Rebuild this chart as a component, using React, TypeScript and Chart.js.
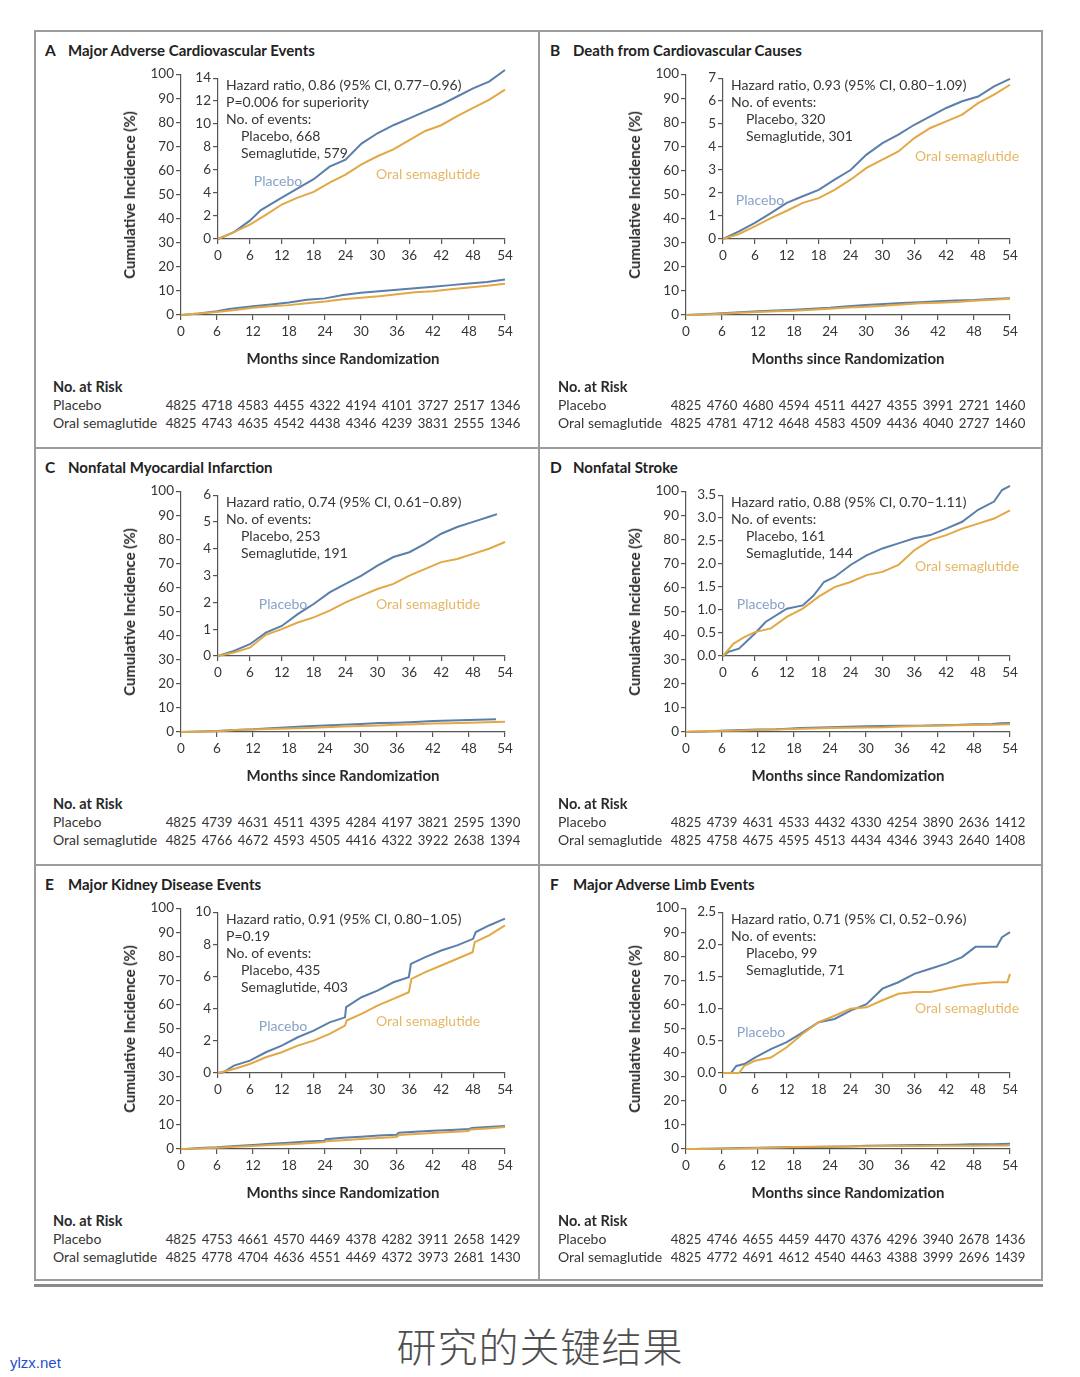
import React, { useEffect, useRef } from 'react';
import { Chart, registerables } from 'chart.js';
Chart.register(...registerables);

// ---------- data ----------
const xTickMonths = [0, 6, 12, 18, 24, 30, 36, 42, 48, 54];

// A: Major Adverse Cardiovascular Events
const aPlaceboMonths = [0, 3, 6, 8, 12, 15, 18, 21, 24, 27, 30, 33, 36, 39, 42, 45, 48, 51, 54];
const aPlaceboPct = [0, 0.6, 1.6, 2.5, 3.6, 4.4, 5.2, 6.3, 6.9, 8.3, 9.2, 9.9, 10.5, 11.1, 11.7, 12.4, 13.1, 13.7, 14.7];
const aSemaMonths = [0, 3, 6, 9, 12, 15, 18, 21, 24, 27, 30, 33, 36, 39, 42, 45, 48, 51, 54];
const aSemaPct = [0, 0.6, 1.25, 2.1, 3.0, 3.6, 4.1, 4.9, 5.6, 6.5, 7.2, 7.8, 8.6, 9.4, 9.9, 10.7, 11.4, 12.1, 13.0];
const aRiskPlacebo = [4825, 4718, 4583, 4455, 4322, 4194, 4101, 3727, 2517, 1346];
const aRiskSema = [4825, 4743, 4635, 4542, 4438, 4346, 4239, 3831, 2555, 1346];

// B: Death from Cardiovascular Causes
const bPlaceboMonths = [0, 3, 6, 9, 12, 15, 18, 21, 24, 27, 30, 33, 36, 39, 42, 45, 48, 51, 54];
const bPlaceboPct = [0, 0.33, 0.7, 1.13, 1.57, 1.86, 2.14, 2.58, 3.0, 3.67, 4.17, 4.54, 4.97, 5.33, 5.7, 5.99, 6.2, 6.64, 6.97];
const bSemaMonths = [0, 3, 6, 9, 12, 15, 18, 21, 24, 27, 30, 33, 36, 39, 42, 45, 48, 51, 54];
const bSemaPct = [0, 0.22, 0.55, 0.91, 1.23, 1.57, 1.78, 2.14, 2.58, 3.09, 3.45, 3.81, 4.39, 4.83, 5.12, 5.41, 5.91, 6.28, 6.71];
const bRiskPlacebo = [4825, 4760, 4680, 4594, 4511, 4427, 4355, 3991, 2721, 1460];
const bRiskSema = [4825, 4781, 4712, 4648, 4583, 4509, 4436, 4040, 2727, 1460];

// C: Nonfatal Myocardial Infarction
const cPlaceboMonths = [0, 3, 6, 9, 12, 15, 18, 21, 24, 27, 30, 33, 36, 39, 42, 45, 48, 51, 52.5];
const cPlaceboPct = [0, 0.19, 0.44, 0.87, 1.12, 1.56, 1.94, 2.37, 2.69, 3.0, 3.37, 3.69, 3.87, 4.19, 4.56, 4.81, 5.0, 5.19, 5.29];
const cSemaMonths = [0, 3, 6, 9, 12, 15, 18, 21, 24, 27, 30, 33, 36, 39, 42, 45, 48, 51, 54];
const cSemaPct = [0, 0.13, 0.31, 0.79, 1.0, 1.25, 1.44, 1.69, 2.0, 2.25, 2.5, 2.69, 3.0, 3.25, 3.5, 3.62, 3.81, 4.0, 4.25];
const cRiskPlacebo = [4825, 4739, 4631, 4511, 4395, 4284, 4197, 3821, 2595, 1390];
const cRiskSema = [4825, 4766, 4672, 4593, 4505, 4416, 4322, 3922, 2638, 1394];

// D: Nonfatal Stroke
const dPlaceboMonths = [0, 1, 3, 6, 8, 12, 15, 17, 19, 21, 24, 27, 30, 33, 36, 39, 42, 45, 48, 51, 52.5, 54];
const dPlaceboPct = [0, 0.09, 0.16, 0.49, 0.74, 1.03, 1.1, 1.31, 1.61, 1.72, 1.98, 2.19, 2.34, 2.45, 2.56, 2.63, 2.77, 2.92, 3.18, 3.36, 3.61, 3.7];
const dSemaMonths = [0, 2, 4, 6, 9, 12, 15, 18, 21, 24, 27, 30, 33, 36, 39, 42, 45, 48, 51, 54];
const dSemaPct = [0, 0.27, 0.41, 0.52, 0.6, 0.85, 1.03, 1.29, 1.5, 1.61, 1.76, 1.83, 1.98, 2.3, 2.52, 2.63, 2.77, 2.88, 2.99, 3.17];
const dRiskPlacebo = [4825, 4739, 4631, 4533, 4432, 4330, 4254, 3890, 2636, 1412];
const dRiskSema = [4825, 4758, 4675, 4595, 4513, 4434, 4346, 3943, 2640, 1408];

// E: Major Kidney Disease Events
const ePlaceboMonths = [0, 1, 3, 6, 9, 12, 15, 18, 21, 23.9, 24.1, 27, 30, 33, 35.9, 36.3, 39, 42, 45, 48, 48.5, 51, 54];
const ePlaceboPct = [0, 0.04, 0.46, 0.77, 1.29, 1.7, 2.22, 2.63, 3.15, 3.46, 4.09, 4.71, 5.12, 5.64, 5.95, 6.78, 7.2, 7.61, 7.93, 8.34, 8.76, 9.17, 9.59];
const eSemaMonths = [0, 3, 6, 9, 12, 15, 18, 21, 23.9, 24.2, 27, 30, 33, 35.9, 36.4, 39, 42, 45, 47.9, 48.3, 51, 54];
const eSemaPct = [0, 0.25, 0.56, 0.98, 1.29, 1.7, 2.01, 2.43, 2.95, 3.26, 3.67, 4.19, 4.61, 5.02, 5.85, 6.27, 6.68, 7.1, 7.51, 8.13, 8.55, 9.17];
const eRiskPlacebo = [4825, 4753, 4661, 4570, 4469, 4378, 4282, 3911, 2658, 1429];
const eRiskSema = [4825, 4778, 4704, 4636, 4551, 4469, 4372, 3973, 2681, 1430];

// F: Major Adverse Limb Events
const fPlaceboMonths = [0, 1.5, 2.5, 4, 6, 9, 12, 15, 18, 21, 24, 27, 30, 33, 36, 39, 42, 45, 47.5, 51.5, 52.5, 54];
const fPlaceboPct = [0, 0, 0.11, 0.14, 0.24, 0.37, 0.48, 0.63, 0.79, 0.84, 0.97, 1.07, 1.31, 1.41, 1.54, 1.62, 1.7, 1.8, 1.96, 1.96, 2.11, 2.19];
const fSemaMonths = [0, 3, 4, 6, 9, 12, 15, 18, 21, 24, 27, 30, 33, 36, 39, 42, 45, 48, 51, 53.5, 54];
const fSemaPct = [0, 0, 0.11, 0.19, 0.24, 0.4, 0.61, 0.79, 0.89, 1.0, 1.02, 1.13, 1.23, 1.26, 1.26, 1.31, 1.36, 1.39, 1.41, 1.41, 1.54];
const fRiskPlacebo = [4825, 4746, 4655, 4459, 4470, 4376, 4296, 3940, 2678, 1436];
const fRiskSema = [4825, 4772, 4691, 4612, 4540, 4463, 4388, 3999, 2696, 1439];

// ---------- styles ----------
const BLUE = '#5a7fab';
const ORANGE = '#e2a845';
const BLUE_TXT = '#86a2c6';
const ORANGE_TXT = '#e6b765';
const AXIS = '#555555';
const TEXT = '#363636';
const FONT = 'Lato, "Open Sans", sans-serif';

type PanelCfg = {
  letter: string;
  title: string;
  left: number;
  top: number;
  pm: number[]; pv: number[]; sm: number[]; sv: number[];
  insetMax: number; insetStep: number; decimals: number;
  info: string[]; indentFrom: number;
  placeboLbl: [number, number]; semaLbl: [number, number];
  riskP: number[]; riskS: number[];
};

const panels: PanelCfg[] = [
  { letter: 'A', title: 'Major Adverse Cardiovascular Events', left: 34, top: 31,
    pm: aPlaceboMonths, pv: aPlaceboPct, sm: aSemaMonths, sv: aSemaPct,
    insetMax: 14, insetStep: 2, decimals: 0,
    info: ['Hazard ratio, 0.86 (95% CI, 0.77–0.96)', 'P=0.006 for superiority', 'No. of events:', 'Placebo, 668', 'Semaglutide, 579'], indentFrom: 3,
    placeboLbl: [244, 149], semaLbl: [394, 142], riskP: aRiskPlacebo, riskS: aRiskSema },
  { letter: 'B', title: 'Death from Cardiovascular Causes', left: 539, top: 31,
    pm: bPlaceboMonths, pv: bPlaceboPct, sm: bSemaMonths, sv: bSemaPct,
    insetMax: 7, insetStep: 1, decimals: 0,
    info: ['Hazard ratio, 0.93 (95% CI, 0.80–1.09)', 'No. of events:', 'Placebo, 320', 'Semaglutide, 301'], indentFrom: 2,
    placeboLbl: [221, 168], semaLbl: [428, 124], riskP: bRiskPlacebo, riskS: bRiskSema },
  { letter: 'C', title: 'Nonfatal Myocardial Infarction', left: 34, top: 448,
    pm: cPlaceboMonths, pv: cPlaceboPct, sm: cSemaMonths, sv: cSemaPct,
    insetMax: 6, insetStep: 1, decimals: 0,
    info: ['Hazard ratio, 0.74 (95% CI, 0.61–0.89)', 'No. of events:', 'Placebo, 253', 'Semaglutide, 191'], indentFrom: 2,
    placeboLbl: [249, 155], semaLbl: [394, 155], riskP: cRiskPlacebo, riskS: cRiskSema },
  { letter: 'D', title: 'Nonfatal Stroke', left: 539, top: 448,
    pm: dPlaceboMonths, pv: dPlaceboPct, sm: dSemaMonths, sv: dSemaPct,
    insetMax: 3.5, insetStep: 0.5, decimals: 1,
    info: ['Hazard ratio, 0.88 (95% CI, 0.70–1.11)', 'No. of events:', 'Placebo, 161', 'Semaglutide, 144'], indentFrom: 2,
    placeboLbl: [222, 155], semaLbl: [428, 117], riskP: dRiskPlacebo, riskS: dRiskSema },
  { letter: 'E', title: 'Major Kidney Disease Events', left: 34, top: 865,
    pm: ePlaceboMonths, pv: ePlaceboPct, sm: eSemaMonths, sv: eSemaPct,
    insetMax: 10, insetStep: 2, decimals: 0,
    info: ['Hazard ratio, 0.91 (95% CI, 0.80–1.05)', 'P=0.19', 'No. of events:', 'Placebo, 435', 'Semaglutide, 403'], indentFrom: 3,
    placeboLbl: [249, 160], semaLbl: [394, 155], riskP: eRiskPlacebo, riskS: eRiskSema },
  { letter: 'F', title: 'Major Adverse Limb Events', left: 539, top: 865,
    pm: fPlaceboMonths, pv: fPlaceboPct, sm: fSemaMonths, sv: fSemaPct,
    insetMax: 2.5, insetStep: 0.5, decimals: 1,
    info: ['Hazard ratio, 0.71 (95% CI, 0.52–0.96)', 'No. of events:', 'Placebo, 99', 'Semaglutide, 71'], indentFrom: 2,
    placeboLbl: [222, 166], semaLbl: [428, 142], riskP: fRiskPlacebo, riskS: fRiskSema },
];

const pts = (xs: number[], ys: number[]) => xs.map((x, i) => ({ x, y: ys[i] }));

function datasets(cfg: PanelCfg) {
  return [
    { label: 'Oral semaglutide', data: pts(cfg.sm, cfg.sv), borderColor: ORANGE, borderWidth: 2, pointRadius: 0, tension: 0, clip: false as any, fill: false },
    { label: 'Placebo', data: pts(cfg.pm, cfg.pv), borderColor: BLUE, borderWidth: 2, pointRadius: 0, tension: 0, clip: false as any, fill: false },
  ];
}

function axisCommon() {
  return {
    grid: { drawOnChartArea: false, drawTicks: true, tickLength: 5, color: AXIS, lineWidth: 1.2 },
    border: { display: true, color: AXIS, width: 1.2 },
  };
}

function makeConfig(cfg: PanelCfg, inset: boolean): any {
  const yMax = inset ? cfg.insetMax : 100;
  const yStep = inset ? cfg.insetStep : 10;
  return {
    type: 'line',
    data: { datasets: datasets(cfg) },
    options: {
      animation: false,
      responsive: true,
      maintainAspectRatio: false,
      events: [],
      layout: { padding: { left: 0, top: 10, right: 19, bottom: 0 } },
      plugins: { legend: { display: false }, tooltip: { enabled: false } },
      scales: {
        x: {
          type: 'linear', min: 0, max: 54,
          afterBuildTicks: (s: any) => { s.ticks = xTickMonths.map((v) => ({ value: v })); },
          ticks: { autoSkip: false, maxRotation: 0, padding: 4, color: TEXT, font: { family: FONT, size: 13.5 } },
          afterFit: (s: any) => { s.height = inset ? 28 : 39; },
          ...axisCommon(),
        },
        y: {
          type: 'linear', min: 0, max: yMax,
          ticks: {
            stepSize: yStep, padding: 2, color: TEXT, font: { family: FONT, size: 13.5 },
            callback: (v: number) => (inset ? Number(v).toFixed(cfg.decimals) : String(v)),
          },
          afterFit: (s: any) => { s.width = inset ? 34 : 67; },
          ...axisCommon(),
        },
      },
    },
  };
}

function T({ x, y, children, style }: { x: number; y: number; children: React.ReactNode; style?: React.CSSProperties }) {
  return (
    <div style={{ position: 'absolute', left: x, top: y - 9, height: 18, lineHeight: '18px', whiteSpace: 'pre', fontFamily: FONT, fontSize: 14, color: TEXT, ...style }}>
      {children}
    </div>
  );
}

function Panel({ cfg }: { cfg: PanelCfg }) {
  const mainRef = useRef<HTMLCanvasElement>(null);
  const insetRef = useRef<HTMLCanvasElement>(null);
  useEffect(() => {
    const main = new Chart(mainRef.current as HTMLCanvasElement, makeConfig(cfg, false));
    const inset = new Chart(insetRef.current as HTMLCanvasElement, makeConfig(cfg, true));
    return () => { main.destroy(); inset.destroy(); };
  }, [cfg]);

  const tickX = (i: number) => 147 + i * 36;
  return (
    <div style={{ position: 'absolute', left: cfg.left, top: cfg.top, width: 505, height: 417 }}>
      <div style={{ position: 'absolute', left: 80, top: 33, width: 410, height: 290 }}>
        <canvas ref={mainRef} />
      </div>
      <div style={{ position: 'absolute', left: 150, top: 37, width: 340, height: 199 }}>
        <canvas ref={insetRef} />
      </div>
      <T x={11} y={19} style={{ fontWeight: 700, fontSize: 15.5, color: '#222' }}>{cfg.letter}</T>
      <T x={34} y={19} style={{ fontWeight: 700, fontSize: 15, color: '#222' }}>{cfg.title}</T>
      <div style={{ position: 'absolute', left: 95, top: 164, transform: 'translate(-50%,-50%) rotate(-90deg)', whiteSpace: 'nowrap', fontFamily: FONT, fontWeight: 700, fontSize: 15, color: '#2a2a2a' }}>
        Cumulative Incidence (%)
      </div>
      {cfg.info.map((s, i) => (
        <T key={i} x={i >= cfg.indentFrom ? 207 : 192} y={54 + i * 17}>{s}</T>
      ))}
      <div style={{ position: 'absolute', left: cfg.placeboLbl[0], top: cfg.placeboLbl[1], transform: 'translate(-50%,-50%)', whiteSpace: 'nowrap', fontFamily: FONT, fontSize: 14, color: BLUE_TXT }}>Placebo</div>
      <div style={{ position: 'absolute', left: cfg.semaLbl[0], top: cfg.semaLbl[1], transform: 'translate(-50%,-50%)', whiteSpace: 'nowrap', fontFamily: FONT, fontSize: 14, color: ORANGE_TXT }}>Oral semaglutide</div>
      <div style={{ position: 'absolute', left: 309, top: 327, transform: 'translate(-50%,-50%)', whiteSpace: 'nowrap', fontFamily: FONT, fontWeight: 700, fontSize: 15, color: '#2a2a2a' }}>
        Months since Randomization
      </div>
      <T x={19} y={356} style={{ fontWeight: 700, fontSize: 14.5, color: '#2a2a2a' }}>No. at Risk</T>
      <T x={19} y={374}>Placebo</T>
      <T x={19} y={392}>Oral semaglutide</T>
      {cfg.riskP.map((n, i) => (
        <div key={'p' + i} style={{ position: 'absolute', left: tickX(i), top: 374 - 9, transform: 'translateX(-50%)', lineHeight: '18px', fontFamily: FONT, fontSize: 13.2, color: TEXT }}>{n}</div>
      ))}
      {cfg.riskS.map((n, i) => (
        <div key={'s' + i} style={{ position: 'absolute', left: tickX(i), top: 392 - 9, transform: 'translateX(-50%)', lineHeight: '18px', fontFamily: FONT, fontSize: 13.2, color: TEXT }}>{n}</div>
      ))}
    </div>
  );
}

export default function App() {
  const line = '#9c9c9c';
  return (
    <div style={{ position: 'absolute', left: 0, top: 0, width: 1080, height: 1377, background: '#fff', overflow: 'hidden' }}>
      <div style={{ position: 'absolute', left: 34, top: 30, width: 1009, height: 1251, border: `2px solid ${line}`, boxSizing: 'border-box' }} />
      <div style={{ position: 'absolute', left: 538, top: 30, width: 2, height: 1251, background: line }} />
      <div style={{ position: 'absolute', left: 34, top: 447, width: 1009, height: 2, background: line }} />
      <div style={{ position: 'absolute', left: 34, top: 864, width: 1009, height: 2, background: line }} />
      <div style={{ position: 'absolute', left: 34, top: 1284, width: 1009, height: 3, background: '#8a8a8a' }} />
      {panels.map((p) => <Panel key={p.letter} cfg={p} />)}
      <div style={{ position: 'absolute', left: 540, top: 1345, transform: 'translate(-50%,-50%)', whiteSpace: 'nowrap', fontFamily: '"Noto Sans CJK SC", sans-serif', fontWeight: 300, fontSize: 40, letterSpacing: 1, color: '#4e4e4e' }}>
        研究的关键结果
      </div>
      <div style={{ position: 'absolute', left: 10, top: 1362, transform: 'translateY(-50%)', whiteSpace: 'nowrap', fontFamily: '"Liberation Sans Narrow", "Liberation Sans", sans-serif', fontSize: 15, color: '#1f4fcf' }}>
        ylzx.net
      </div>
    </div>
  );
}
